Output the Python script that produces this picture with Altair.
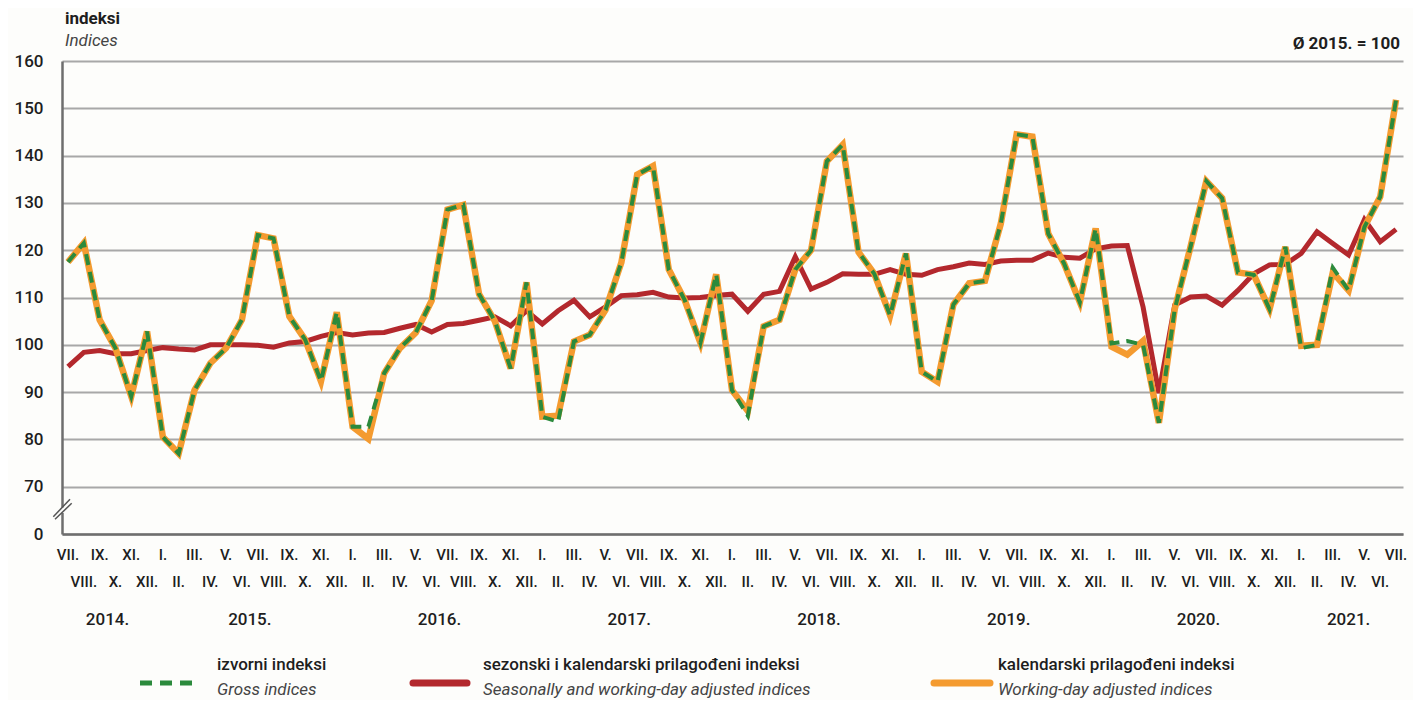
import altair as alt
import pandas as pd

# ---- data (VII 2014 .. VII 2021) ----
gross = [117.5, 121.5, 105.3, 99.3, 89.1, 102.8,
         80.5, 77.0, 90.4, 96.1, 99.3, 105.3, 123.2, 122.5, 106.0, 101.1, 92.3, 106.9,
         82.7, 82.7, 94.0, 99.3, 102.6, 109.3, 128.6, 129.6, 110.7, 105.0, 95.0, 113.2,
         84.8, 83.7, 100.7, 102.1, 107.4, 117.4, 136.0, 137.8, 115.9, 109.5, 100.4, 114.9,
         90.4, 85.0, 103.9, 105.3, 115.9, 120.0, 138.8, 142.3, 119.6, 115.0, 106.2, 119.3,
         94.3, 92.2, 108.5, 113.0, 113.5, 125.6, 144.5, 144.0, 123.5, 117.2, 109.0, 124.6,
         100.3, 100.8, 100.0, 83.5, 107.5, 120.7, 134.6, 131.0, 115.3, 114.8, 107.5, 120.7,
         99.3, 100.0, 116.3, 111.5, 124.9, 131.3, 151.8]

working_day = [117.5, 121.5, 105.3, 99.3, 89.1, 102.8,
               80.5, 77.0, 90.4, 96.1, 99.3, 105.3, 123.2, 122.5, 106.0, 101.1, 92.3, 106.9,
               82.7, 80.1, 94.0, 99.3, 102.6, 109.3, 128.6, 129.6, 110.7, 105.0, 95.0, 113.2,
               84.8, 85.0, 100.7, 102.1, 107.4, 117.4, 136.0, 137.8, 115.9, 109.5, 100.4, 114.9,
               90.4, 86.0, 103.9, 105.3, 115.9, 120.0, 138.8, 142.3, 119.6, 115.0, 106.2, 119.3,
               94.3, 92.2, 108.5, 113.0, 113.5, 125.6, 144.5, 144.0, 123.5, 117.2, 109.0, 124.6,
               99.6, 97.9, 100.8, 83.5, 107.5, 120.7, 134.6, 131.0, 115.3, 114.8, 107.5, 120.7,
               99.8, 100.0, 115.3, 111.5, 124.9, 131.3, 151.8]

seasonal = [95.4, 98.4, 98.8, 98.1, 98.1, 98.8,
            99.4, 99.1, 98.9, 100.0, 100.0, 100.0, 99.9, 99.5, 100.4, 100.7, 101.8, 102.6,
            102.1, 102.5, 102.6, 103.5, 104.3, 102.7, 104.3, 104.5, 105.2, 105.9, 104.0, 107.2,
            104.4, 107.2, 109.4, 105.9, 108.0, 110.4, 110.6, 111.1, 110.1, 109.9, 110.0, 110.4,
            110.7, 107.1, 110.7, 111.3, 118.6, 111.8, 113.2, 115.0, 114.9, 114.9, 115.9, 114.9,
            114.7, 115.9, 116.5, 117.3, 117.0, 117.7, 117.9, 117.9, 119.4, 118.5, 118.3, 120.3,
            120.9, 121.0, 108.0, 89.8, 108.4, 110.1, 110.3, 108.4, 111.5, 115.0, 116.9, 117.0,
            119.3, 123.9, 121.4, 119.0, 126.5, 121.8, 124.4]

roman = ["I.", "II.", "III.", "IV.", "V.", "VI.", "VII.", "VIII.", "IX.", "X.", "XI.", "XII."]
years = ["2014.", "2015.", "2016.", "2017.", "2018.", "2019.", "2020.", "2021."]
year_first = [0, 6, 18, 30, 42, 54, 66, 78]
year_last = [5, 17, 29, 41, 53, 65, 77, 84]
y_ticks = [60, 70, 80, 90, 100, 110, 120, 130, 140, 150, 160]

GREEN = "#2b8a3c"
ORANGE = "#f49b30"
RED = "#b3282d"
FONT = "Roboto, 'Liberation Sans', sans-serif"
TXT = "#1e1e1e"

n = len(gross)
df = pd.DataFrame({"idx": list(range(n)), "gross": gross, "wd": working_day, "sa": seasonal})

months = pd.DataFrame({
    "idx": list(range(n)),
    "label": [roman[(6 + i) % 12] for i in range(n)],
    "row": [i % 2 for i in range(n)],
})
yr = pd.DataFrame({"mid": [(a + b) / 2 for a, b in zip(year_first, year_last)], "year": years})

xscale = alt.Scale(domain=[-0.38, 84.44], nice=False, zero=False)
yscale = alt.Scale(domain=[60, 160], nice=False, zero=False)

xenc = alt.X("idx:Q", scale=xscale,
             axis=alt.Axis(labels=False, ticks=False, grid=False, title=None,
                           domainColor="#6e6e6e", domainWidth=2.5))
yaxis = alt.Axis(values=y_ticks, title=None, ticks=False,
                 labelExpr="datum.value == 60 ? '0' : datum.label",
                 labelFont=FONT, labelFontSize=17, labelFontWeight=500,
                 labelColor=TXT, labelPadding=19,
                 grid=True, gridColor="#a8a8a8", gridWidth=1.8,
                 domainColor="#6e6e6e", domainWidth=2.5)

red = alt.Chart(df).mark_line(color=RED, strokeWidth=5).encode(
    x=xenc, y=alt.Y("sa:Q", scale=yscale, axis=yaxis))
orange = alt.Chart(df).mark_line(color=ORANGE, strokeWidth=6.5).encode(
    x=alt.X("idx:Q", scale=xscale), y=alt.Y("wd:Q", scale=yscale))
green = alt.Chart(df).mark_line(color=GREEN, strokeWidth=4, strokeDash=[11, 7]).encode(
    x=alt.X("idx:Q", scale=xscale), y=alt.Y("gross:Q", scale=yscale))

month_top = alt.Chart(months).transform_filter("datum.row == 0").mark_text(
    font=FONT, fontSize=15, fontWeight=500, color=TXT, baseline="middle").encode(
    x=alt.X("idx:Q", scale=xscale), y=alt.value(494), text="label:N")
month_bot = alt.Chart(months).transform_filter("datum.row == 1").mark_text(
    font=FONT, fontSize=15, fontWeight=500, color=TXT, baseline="middle").encode(
    x=alt.X("idx:Q", scale=xscale), y=alt.value(521), text="label:N")
year_text = alt.Chart(yr).mark_text(font=FONT, fontSize=17, fontWeight=500,
                                    color=TXT, baseline="middle").encode(
    x=alt.X("mid:Q", scale=xscale), y=alt.value(559), text="year:N")

# axis break marks
one = pd.DataFrame({"k": [0]})
brk_bg = alt.Chart(one).mark_rect(color="#fdfdfb").encode(
    x=alt.value(-3), x2=alt.value(3), y=alt.value(446.5), y2=alt.value(452))
brk1 = alt.Chart(one).mark_rule(color="#555", strokeWidth=1.5).encode(
    x=alt.value(-8.7), y=alt.value(455.7), x2=alt.value(8), y2=alt.value(438.3))
brk2 = alt.Chart(one).mark_rule(color="#555", strokeWidth=1.5).encode(
    x=alt.value(-7), y=alt.value(458.3), x2=alt.value(9.7), y2=alt.value(442.3))

# titles
t1 = alt.Chart(one).mark_text(text="indeksi", font=FONT, fontSize=17, fontWeight="bold",
                              color=TXT, align="left", baseline="middle").encode(
    x=alt.value(3), y=alt.value(-42))
t2 = alt.Chart(one).mark_text(text="Indices", font=FONT, fontSize=17, fontStyle="italic",
                              color="#444", align="left", baseline="middle").encode(
    x=alt.value(3), y=alt.value(-20))
t3 = alt.Chart(one).mark_text(text="Ø 2015. = 100", font=FONT, fontSize=17, fontWeight="bold",
                              color=TXT, align="right", baseline="middle").encode(
    x=alt.value(1338), y=alt.value(-17))

# legend
leg_items = [
    ("izvorni indeksi", "Gross indices", 78, 133, 155),
    ("sezonski i kalendarski prilagođeni indeksi", "Seasonally and working-day adjusted indices", 351, 405, 421),
    ("kalendarski prilagođeni indeksi", "Working-day adjusted indices", 872, 928, 936),
]
leg_layers = []
leg_green = alt.Chart(one).mark_rule(color=GREEN, strokeWidth=5, strokeDash=[12, 8]).encode(
    x=alt.value(leg_items[0][2]), x2=alt.value(leg_items[0][3]), y=alt.value(622))
leg_red = alt.Chart(one).mark_rule(color=RED, strokeWidth=7, strokeCap="round").encode(
    x=alt.value(leg_items[1][2]), x2=alt.value(leg_items[1][3]), y=alt.value(622))
leg_orange = alt.Chart(one).mark_rule(color=ORANGE, strokeWidth=7, strokeCap="round").encode(
    x=alt.value(leg_items[2][2]), x2=alt.value(leg_items[2][3]), y=alt.value(622))
leg_layers += [leg_green, leg_red, leg_orange]
for hr, en, _, _, tx in leg_items:
    leg_layers.append(alt.Chart(one).mark_text(text=hr, font=FONT, fontSize=17, fontWeight=500,
                                               color=TXT, align="left", baseline="middle").encode(
        x=alt.value(tx), y=alt.value(604)))
    leg_layers.append(alt.Chart(one).mark_text(text=en, font=FONT, fontSize=17, fontStyle="italic",
                                               color="#444", align="left", baseline="middle").encode(
        x=alt.value(tx), y=alt.value(629)))

chart = alt.layer(
    red, orange, green, month_top, month_bot, year_text, brk_bg, brk1, brk2, t1, t2, t3, *leg_layers
).properties(
    width=1341, height=473,
    autosize=alt.AutoSizeParams(type="none"),
    padding={"left": 54, "top": 53, "right": 10, "bottom": 166},
    background="#fdfdfb",
).configure_view(stroke=None)

chart.save("out.html", embed_options={"renderer": "svg", "actions": False})
